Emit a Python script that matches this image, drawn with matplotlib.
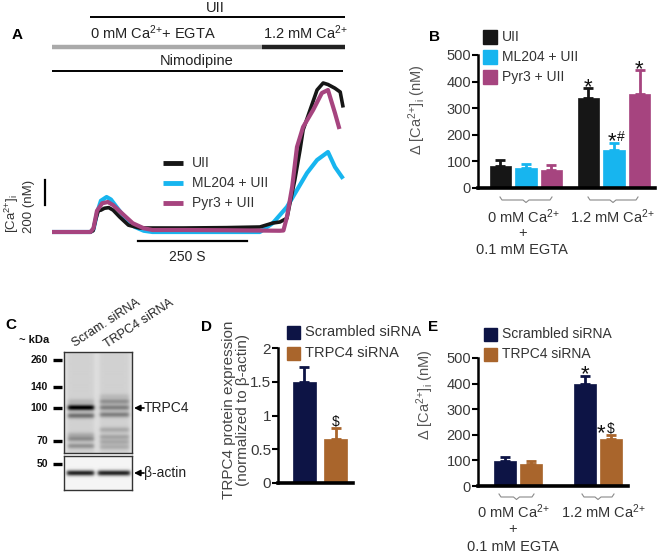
import numpy as np
import matplotlib
matplotlib.use('Agg')
import matplotlib.pyplot as plt
from matplotlib.patches import Rectangle

plt.rcParams['font.family'] = ['Liberation Sans', 'DejaVu Sans']
plt.rcParams['mathtext.fontset'] = 'custom'
plt.rcParams['mathtext.rm'] = 'Liberation Sans'
plt.rcParams['mathtext.it'] = 'Liberation Sans:italic'
plt.rcParams['mathtext.bf'] = 'Liberation Sans:bold'

# ---------------- data ----------------
# Panel A traces: time (s), delta [Ca2+]i (nM)
uii_t = [0, 88, 94, 100, 106, 112, 120, 130, 140, 155, 175, 200, 300, 400, 476, 506,
         522, 538, 545, 556, 568, 575, 591, 607, 621, 632, 648, 660, 666]
uii_v = [0, 0, 10, 100, 170, 175, 190, 195, 175, 120, 55, 32, 32, 35, 40, 72,
         80, 110, 232, 416, 656, 816, 976, 1136, 1192, 1180, 1150, 1120, 1010]
ml204_t = [0, 88, 95, 103, 112, 125, 135, 150, 170, 190, 210, 230, 476, 506, 538,
           561, 584, 607, 632, 648, 664]
ml204_v = [0, 0, 20, 150, 250, 280, 260, 190, 100, 40, 10, 0, 0, 72, 200,
           336, 472, 576, 640, 520, 440]
pyr3_t = [0, 88, 95, 103, 115, 128, 140, 160, 185, 210, 230, 300, 400, 522, 530,
          538, 550, 561, 575, 598, 618, 632, 648, 657]
pyr3_v = [0, 0, 30, 170, 230, 240, 215, 150, 70, 30, 16, 16, 14, 10, 12,
          120, 360, 680, 840, 976, 1112, 1136, 952, 840]
trace_labels = ['UII', 'ML204 + UII', 'Pyr3 + UII']

# Panel B: delta [Ca2+]i (nM)
b_groups = ['0 mM Ca$^{2{+}}$', '1.2 mM Ca$^{2{+}}$']
b_series = ['UII', 'ML204 + UII', 'Pyr3 + UII']
b_uii = [84, 337]
b_uii_err = [21, 38]
b_ml204 = [74, 143]
b_ml204_err = [16, 27]
b_pyr3 = [68, 352]
b_pyr3_err = [20, 91]

# Panel C: western blot bands (relative row in blot, intensity)
c_lanes = ['Scram. siRNA', 'TRPC4 siRNA']
c_markers_kda = ['260', '140', '100', '70']
c_lane1_bands = [(56, 1.0), (64, 0.45), (50, 0.12), (83, 0.15), (87, 0.3), (94, 0.28)]
c_lane2_bands = [(45, 0.1), (50, 0.3), (56, 0.38), (63, 0.38), (78, 0.18), (85, 0.2),
                 (90, 0.18), (95, 0.16)]
c_actin_bands = [(17, 0.95), (17, 0.95)]

# Panel D: TRPC4 protein expression (normalized to beta-actin)
d_labels = ['Scrambled siRNA', 'TRPC4 siRNA']
d_vals = [1.50, 0.65]
d_err = [0.22, 0.16]

# Panel E
e_scr = [99, 400]
e_scr_err = [16, 31]
e_trpc4 = [85, 183]
e_trpc4_err = [14, 17]

# ---------------- styles ----------------
C_BLACK = '#161616'
C_CYAN = '#17b5ef'
C_MAG = '#a6447f'
C_NAVY = '#0d1445'
C_BROWN = '#a9652c'
TXT = '#333333'
LBL = '#555555'

W, H = 660, 554
fig = plt.figure(figsize=(6.6, 5.54), dpi=100)


def add_ax(l, t, r, b):
    return fig.add_axes([l / W, 1 - b / H, (r - l) / W, (b - t) / H])


ov = fig.add_axes([0, 0, 1, 1], zorder=10)
ov.set_xlim(0, W)
ov.set_ylim(H, 0)
ov.axis('off')


def T(x, y, s, **kw):
    kw.setdefault('color', TXT)
    kw.setdefault('fontsize', 10)
    ov.text(x, y, s, **kw)


# ---------------- Panel A ----------------
T(12, 35, 'A', fontsize=11, fontweight='bold', color='black', ha='left', va='center')
T(215, 8, 'UII', fontsize=10.5, ha='center', va='center', color='#222')
ov.plot([90, 345], [17, 17], color='black', lw=1.4, solid_capstyle='butt')
T(153, 33, '0 mM Ca$^{2{+}}$+ EGTA', fontsize=10.5, ha='center', va='center', color='#222')
T(305, 33, '1.2 mM Ca$^{2{+}}$', fontsize=10.5, ha='center', va='center', color='#222')
ov.plot([52, 262], [46.5, 46.5], color='#aaaaaa', lw=3.2, solid_capstyle='butt')
ov.plot([262, 345], [46.5, 46.5], color='#222222', lw=3.2, solid_capstyle='butt')
T(197, 61, 'Nimodipine', fontsize=10.5, ha='center', va='center', color='#222')
ov.plot([52, 343], [71, 71], color='black', lw=1.4, solid_capstyle='butt')

axA = add_ax(52, 75, 345, 245)
axA.set_xlim(0, 671)
axA.set_ylim(-104, 1256)
axA.axis('off')
axA.plot(uii_t, uii_v, color=C_BLACK, lw=2.6, zorder=3)
axA.plot(pyr3_t, pyr3_v, color=C_MAG, lw=3.0, zorder=4)
axA.plot(ml204_t, ml204_v, color=C_CYAN, lw=3.0, zorder=2)
# scale bars
axA.plot([-16, -16], [216, 416], color='black', lw=1.6, clip_on=False)
axA.plot([197, 447], [-72, -72], color='black', lw=1.6, clip_on=False)
T(187, 257, '250 S', fontsize=10, ha='center', va='center', color='#222')
T(12, 233, '[Ca$^{2{+}}$]$_\\mathregular{i}$', rotation=90, ha='center', va='bottom', fontsize=9.5)
T(29, 233, '200 (nM)', rotation=90, ha='center', va='bottom', fontsize=9.5)

for i, (lab, col) in enumerate(zip(trace_labels, [C_BLACK, C_CYAN, C_MAG])):
    y = 163 + 20 * i
    ov.plot([163, 183], [y, y], color=col, lw=3.5, solid_capstyle='butt')
    T(192, y, lab, fontsize=10, ha='left', va='center')


# ---------------- helpers for bar panels ----------------
def style_bar_ax(ax, yticks, ticklabels, top, fs=10.5):
    ax.set_yticks(yticks)
    ax.set_yticklabels(ticklabels)
    ax.spines['top'].set_visible(False)
    ax.spines['right'].set_visible(False)
    ax.spines['left'].set_bounds(0, top)
    ax.spines['left'].set_linewidth(1.8)
    ax.spines['bottom'].set_linewidth(2.6)
    ax.set_xticks([])
    ax.tick_params(axis='y', direction='out', length=4, width=1.5, labelsize=fs,
                   labelcolor='#3a3a3a', pad=1)
    ax.patch.set_alpha(0)


def bars(ax, x, vals, errs, col, width):
    ax.bar(x, vals, width=width, color=col, edgecolor=col, lw=0.5, zorder=2)
    ax.errorbar(x, vals, yerr=[np.zeros(len(errs)), errs], fmt='none', ecolor=col,
                elinewidth=2, capsize=3.5, capthick=2, zorder=1)


def brace(x0, x1, y):
    xc = (x0 + x1) / 2
    ov.plot([x0, x0 + 2, xc - 3, xc, xc + 3, x1 - 2, x1],
            [y - 3, y, y, y + 2.5, y, y, y - 3], color='#8a8a8a', lw=0.8)


def sig(ax, x, ytop, star, sym=None, dx=0, fs_sym=10):
    ax.annotate('*', xy=(x, ytop), xytext=(dx, -3.5), textcoords='offset points',
                ha='center' if sym is None else 'right', va='baseline', fontsize=16,
                color='#111')
    if sym is not None:
        ax.annotate(sym, xy=(x, ytop), xytext=(dx + 0.8, 1.5), textcoords='offset points',
                    ha='left', va='baseline', fontsize=fs_sym, color='#111')


# ---------------- Panel B ----------------
axB = add_ax(478, 40, 655, 188)
axB.set_xlim(-0.545, 1.466)
axB.set_ylim(0, 556)
gx = np.arange(len(b_groups))
bw = 0.24
for off, vals, errs, col in [(-0.29, b_uii, b_uii_err, C_BLACK),
                             (0.0, b_ml204, b_ml204_err, C_CYAN),
                             (0.29, b_pyr3, b_pyr3_err, C_MAG)]:
    bars(axB, gx + off, vals, errs, col, bw)
style_bar_ax(axB, [0, 100, 200, 300, 400, 500], ['0', '100', '200', '300', '400', '500'], 500)
sig(axB, 1 - 0.29, b_uii[1] + b_uii_err[1], '*')
sig(axB, 1.0, b_ml204[1] + b_ml204_err[1], '*', '#', dx=1.5)
sig(axB, 1 + 0.29, b_pyr3[1] + b_pyr3_err[1], '*')
T(417, 110, 'Δ [Ca$^{2{+}}$]$_\\mathregular{i}$ (nM)', rotation=90, ha='center', va='center',
  fontsize=10.5, color=LBL)
T(435, 37, 'B', fontsize=11, fontweight='bold', color='black', ha='center', va='center')
for i, (lab, col) in enumerate(zip(b_series, [C_BLACK, C_CYAN, C_MAG])):
    y = 37 + 20 * i
    ov.add_patch(Rectangle((483, y - 7), 14, 14, color=col))
    T(502, y, lab, fontsize=10, ha='left', va='center')
brace(500, 552, 200)
brace(588, 638, 200)
T(523, 217, b_groups[0], fontsize=10.5, ha='center', va='center')
T(523, 233, '+', fontsize=10.5, ha='center', va='center')
T(522, 250, '0.1 mM EGTA', fontsize=10.5, ha='center', va='center')
T(612, 217, b_groups[1], fontsize=10.5, ha='center', va='center')

# ---------------- Panel C (western blot) ----------------
T(11, 325, 'C', fontsize=11, fontweight='bold', color='black', ha='center', va='center')
T(19, 340, '~ kDa', fontsize=8, fontweight='bold', color='#111', ha='left', va='center')
for lab, y in zip(c_markers_kda, [360, 387, 408, 441]):
    ov.plot([53, 62], [y, y], color='black', lw=2.4, solid_capstyle='butt')
    T(48, y, lab, fontsize=7.5, fontweight='bold', color='#111', ha='right', va='center')
ov.plot([53, 62], [464, 464], color='black', lw=2.4, solid_capstyle='butt')
T(48, 464, '50', fontsize=7.5, fontweight='bold', color='#111', ha='right', va='center')
T(75, 347, c_lanes[0], rotation=33, rotation_mode='anchor', ha='left', va='baseline',
  fontsize=9, color='#222')
T(107, 348, c_lanes[1], rotation=33, rotation_mode='anchor', ha='left', va='baseline',
  fontsize=9, color='#222')


def blot_image(h, w, bg, smear, lane_bands, lane_spans, sig_px):
    rows = np.arange(h)[:, None] + 0.5
    cols = np.arange(w)[None, :] + 0.5
    img = np.full((h, w), bg)
    for bands, (c0, c1) in zip(lane_bands, lane_spans):
        lane = 0.5 * (np.tanh((cols - c0) / 2.0) - np.tanh((cols - c1) / 2.0))
        img = img - smear * lane * np.ones_like(rows)
        for r, inten in bands:
            img = img - inten * 0.85 * lane * np.exp(-0.5 * ((rows - r) / sig_px) ** 2)
    return np.clip(img, 0, 1)


axC1 = add_ax(64, 352, 132, 453)
img1 = blot_image(101, 68, 0.87, 0.05, [c_lane1_bands, c_lane2_bands], [(4, 30), (36, 65)], 1.9)
axC1.imshow(img1, cmap='gray', vmin=0, vmax=1, aspect='auto', interpolation='bilinear')
axC2 = add_ax(64, 456, 132, 490)
img2 = blot_image(34, 68, 0.96, 0.0, [[c_actin_bands[0]], [c_actin_bands[1]]], [(3, 30), (34, 66)], 2.0)
axC2.imshow(img2, cmap='gray', vmin=0, vmax=1, aspect='auto', interpolation='bilinear')
for a in (axC1, axC2):
    a.set_xticks([])
    a.set_yticks([])
    for s in a.spines.values():
        s.set_linewidth(1.0)
        s.set_color('#333')
for y, lab in [(408, 'TRPC4'), (473, 'β-actin')]:
    ov.annotate('', xy=(134, y), xytext=(144, y),
                arrowprops=dict(arrowstyle='-|>', color='black', lw=1.2, mutation_scale=9,
                                shrinkA=0, shrinkB=0))
    T(144, y, lab, fontsize=10, ha='left', va='center', color='#222')

# ---------------- Panel D ----------------
axD = add_ax(278, 330, 353, 483)
axD.set_xlim(-0.84, 1.54)
axD.set_ylim(0, 2.27)
dx_ = np.arange(2)
for i, col in enumerate([C_NAVY, C_BROWN]):
    bars(axD, [dx_[i]], [d_vals[i]], [d_err[i]], col, 0.73)
style_bar_ax(axD, [0, 0.5, 1, 1.5, 2], ['0', '0.5', '1', '1.5', '2'], 2, fs=11)
axD.annotate('$', xy=(1, d_vals[1] + d_err[1]), xytext=(0, 2), textcoords='offset points',
             ha='center', va='baseline', fontsize=10, color='#111')
T(236, 410, 'TRPC4 protein expression\n(normalized to β-actin)', rotation=90, ha='center',
  va='center', fontsize=11, color='#444', linespacing=1.05)
T(207, 327, 'D', fontsize=11, fontweight='bold', color='black', ha='center', va='center')
for i, (lab, col) in enumerate(zip(d_labels, [C_NAVY, C_BROWN])):
    y = 332 + 21 * i
    ov.add_patch(Rectangle((287, y - 6.5), 13, 13, color=col))
    T(305, y, lab, fontsize=10.5, ha='left', va='center')

# ---------------- Panel E ----------------
axE = add_ax(478, 340, 628, 486)
axE.set_xlim(-0.5, 1.375)
axE.set_ylim(0, 570)
ex = np.arange(2)
bars(axE, ex - 0.1625, e_scr, e_scr_err, C_NAVY, 0.275)
bars(axE, ex + 0.1625, e_trpc4, e_trpc4_err, C_BROWN, 0.275)
style_bar_ax(axE, [0, 100, 200, 300, 400, 500], ['0', '100', '200', '300', '400', '500'], 500)
sig(axE, 1 - 0.1625, e_scr[1] + e_scr_err[1], '*')
sig(axE, 1 + 0.1625, e_trpc4[1] + e_trpc4_err[1], '*', '$', dx=-4)
T(425, 395, 'Δ [Ca$^{2{+}}$]$_\\mathregular{i}$ (nM)', rotation=90, ha='center', va='center',
  fontsize=10.5, color=LBL)
T(433, 327, 'E', fontsize=11, fontweight='bold', color='black', ha='center', va='center')
for i, (lab, col) in enumerate(zip(d_labels, [C_NAVY, C_BROWN])):
    y = 334 + 20 * i
    ov.add_patch(Rectangle((484, y - 6.5), 13, 13, color=col))
    T(502, y, lab, fontsize=10, ha='left', va='center')
brace(499, 534, 497)
brace(582, 614, 497)
T(513, 512, b_groups[0], fontsize=10.5, ha='center', va='center')
T(513, 529, '+', fontsize=10.5, ha='center', va='center')
T(513, 547, '0.1 mM EGTA', fontsize=10.5, ha='center', va='center')
T(603, 512, b_groups[1], fontsize=10.5, ha='center', va='center')

fig.savefig('out.png', dpi=100)
